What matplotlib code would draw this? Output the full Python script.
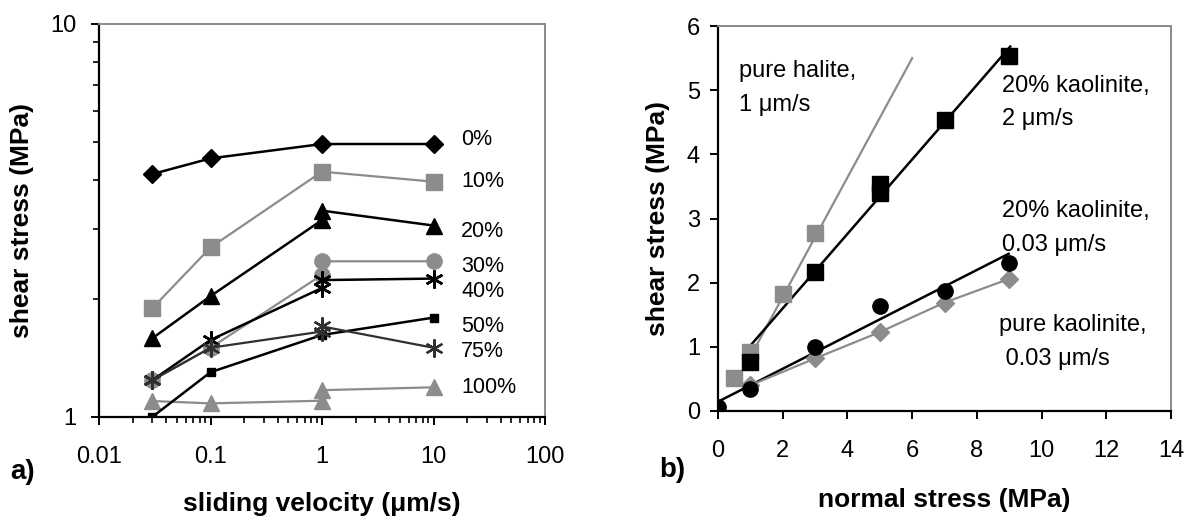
import matplotlib
matplotlib.use('Agg')
import matplotlib.pyplot as plt
from matplotlib.ticker import LogLocator, FuncFormatter, NullFormatter, MultipleLocator

plt.rcParams['font.family'] = ['Liberation Sans', 'DejaVu Sans']

BLACK = '#000000'
GRAY = '#8c8c8c'
FRAME = '#8a8a8a'

# ---- panel a) : shear stress vs sliding velocity, per kaolinite content ----
vel = [0.03, 0.1, 1, 10]
vel2 = [0.03, 0.1, 1, 1, 10]   # series with two runs at 1 um/s
tau_0 = [4.15, 4.55, 4.95, 4.95]
tau_10 = [1.89, 2.70, 4.21, 3.97]
tau_20 = [1.585, 2.03, 3.17, 3.35, 3.07]
tau_30 = [1.24, 1.50, 2.30, 2.49, 2.49]
tau_40 = [1.24, 1.57, 2.13, 2.23, 2.25]
tau_50 = [1.0, 1.30, 1.617, 1.79]
tau_75 = [1.24, 1.50, 1.65, 1.70, 1.50]
tau_100 = [1.098, 1.083, 1.10, 1.17, 1.19]

pct_labels = ['0%', '10%', '20%', '30%', '40%', '50%', '75%', '100%']
pct_label_y = [5.07, 3.98, 2.96, 2.42, 2.09, 1.70, 1.47, 1.19]
pct_label_x = 17.7

# ---- panel b) : shear stress vs normal stress ----
halite_sn = [0.5, 1, 2, 3]
halite_tau = [0.51, 0.92, 1.83, 2.78]
halite_fit_x = [1, 6]
halite_fit_y = [0.85, 5.5]

k20fast_sn = [1, 3, 5, 5, 7, 9]
k20fast_tau = [0.77, 2.16, 3.53, 3.40, 4.53, 5.54]
k20fast_fit_x = [1, 9.03]
k20fast_fit_y = [1.02, 5.68]

k20slow_sn = [0, 1, 3, 5, 7, 9]
k20slow_tau = [0.07, 0.34, 1.0, 1.63, 1.87, 2.30]
k20slow_fit_x = [0, 8.98]
k20slow_fit_y = [0.145, 2.45]

kaol_sn = [1, 3, 5, 7, 9]
kaol_tau = [0.40, 0.82, 1.23, 1.69, 2.06]

# annotation text: (x, baseline of last line, text)
notes = [
    (0.64, 4.68, 'pure halite,\n1 μm/s'),
    (8.79, 4.45, '20% kaolinite,\n2 μm/s'),
    (8.79, 2.50, '20% kaolinite,\n0.03 μm/s'),
    (8.68, 0.72, 'pure kaolinite,\n 0.03 μm/s'),
]

tick_fs = 17
lab_fs = 19
ann_fs = 17

fig = plt.figure(figsize=(11.9, 5.16), dpi=100)


def style_frame(ax, ypad):
    for side in ['left', 'bottom']:
        ax.spines[side].set_color(BLACK)
        ax.spines[side].set_linewidth(1.6)
    for side in ['top', 'right']:
        ax.spines[side].set_color(FRAME)
        ax.spines[side].set_linewidth(1.4)
    ax.tick_params(which='major', direction='out', length=6, width=1.4,
                   labelsize=tick_fs)
    ax.tick_params(which='minor', direction='out', length=4.5, width=1.2)
    ax.tick_params(axis='x', which='major', pad=15)
    ax.tick_params(axis='y', which='major', pad=ypad)


# panel a
ax1 = fig.add_axes([0.0832, 0.1919, 0.3748, 0.7616])
ax1.set_xscale('log')
ax1.set_yscale('log')
ax1.set_xlim(0.01, 100)
ax1.set_ylim(1, 10)

ax1.plot(vel, tau_0, '-', color=BLACK, lw=1.8, marker='D', ms=9.5, zorder=5)
ax1.plot(vel, tau_10, '-', color=GRAY, lw=1.6, marker='s', ms=11, zorder=4)
ax1.plot(vel2, tau_20, '-', color=BLACK, lw=1.8, marker='^', ms=11, zorder=5)
ax1.plot(vel2, tau_30, '-', color=GRAY, lw=1.6, marker='o', ms=11, zorder=4)
ax1.plot(vel2, tau_40, '-', color=BLACK, lw=1.8, marker=(6, 2, 0), ms=13,
         mew=1.8, zorder=5)
ax1.plot(vel, tau_50, '-', color=BLACK, lw=1.8, marker='s', ms=6, zorder=5)
ax1.plot(vel2, tau_75, '-', color='#303030', lw=1.6, marker=(6, 2, 0), ms=13,
         mew=1.6, zorder=5)
ax1.plot(vel2, tau_100, '-', color=GRAY, lw=1.6, marker='^', ms=11, zorder=4)

for txt, yy in zip(pct_labels, pct_label_y):
    ax1.text(pct_label_x, yy, txt, fontsize=15.5, va='center', ha='left')

ax1.xaxis.set_major_locator(LogLocator(base=10, numticks=10))
ax1.xaxis.set_minor_locator(LogLocator(base=10, subs=range(2, 10), numticks=20))
ax1.xaxis.set_major_formatter(FuncFormatter(lambda v, p: '%g' % v))
ax1.xaxis.set_minor_formatter(NullFormatter())
ax1.yaxis.set_major_locator(LogLocator(base=10, numticks=10))
ax1.yaxis.set_minor_locator(LogLocator(base=10, subs=range(2, 10), numticks=20))
ax1.yaxis.set_major_formatter(FuncFormatter(lambda v, p: '%g' % v))
ax1.yaxis.set_minor_formatter(NullFormatter())
style_frame(ax1, 10)

ax1.set_xlabel('sliding velocity (μm/s)', fontsize=lab_fs, fontweight='bold')
ax1.set_ylabel('shear stress (MPa)', fontsize=lab_fs, fontweight='bold')
ax1.xaxis.set_label_coords(0.5, -0.19)
ax1.yaxis.set_label_coords(-0.146, 0.5)

# panel b
ax2 = fig.add_axes([0.6034, 0.2035, 0.3807, 0.7461])
ax2.set_xlim(0, 14)
ax2.set_ylim(0, 6)

ax2.plot(halite_fit_x, halite_fit_y, '-', color=GRAY, lw=1.6, zorder=3)
ax2.plot(halite_sn, halite_tau, 's', color=GRAY, ms=11, zorder=4)
ax2.plot(k20fast_fit_x, k20fast_fit_y, '-', color=BLACK, lw=1.8, zorder=3)
ax2.plot(k20fast_sn, k20fast_tau, 's', color=BLACK, ms=11, zorder=5)
ax2.plot(k20slow_fit_x, k20slow_fit_y, '-', color=BLACK, lw=1.8, zorder=3)
ax2.plot(k20slow_sn, k20slow_tau, 'o', color=BLACK, ms=11, zorder=5)
ax2.plot(kaol_sn, kaol_tau, '-', color=GRAY, lw=1.6, marker='D', ms=9, zorder=4)

for nx, ny, txt in notes:
    ax2.text(nx, ny, txt, fontsize=ann_fs, va='baseline', ha='left',
             linespacing=1.7)

ax2.xaxis.set_major_locator(MultipleLocator(2))
ax2.yaxis.set_major_locator(MultipleLocator(1))
style_frame(ax2, 7)

ax2.set_xlabel('normal stress (MPa)', fontsize=lab_fs, fontweight='bold')
ax2.set_ylabel('shear stress (MPa)', fontsize=lab_fs, fontweight='bold')
ax2.xaxis.set_label_coords(0.5, -0.2)
ax2.yaxis.set_label_coords(-0.106, 0.5)

fig.text(23 / 1190, 1 - 472 / 516, 'a)', fontsize=20, fontweight='bold',
         ha='center', va='center')
fig.text(672 / 1190, 1 - 470 / 516, 'b)', fontsize=20, fontweight='bold',
         ha='center', va='center')

fig.savefig('out.png', dpi=100)
